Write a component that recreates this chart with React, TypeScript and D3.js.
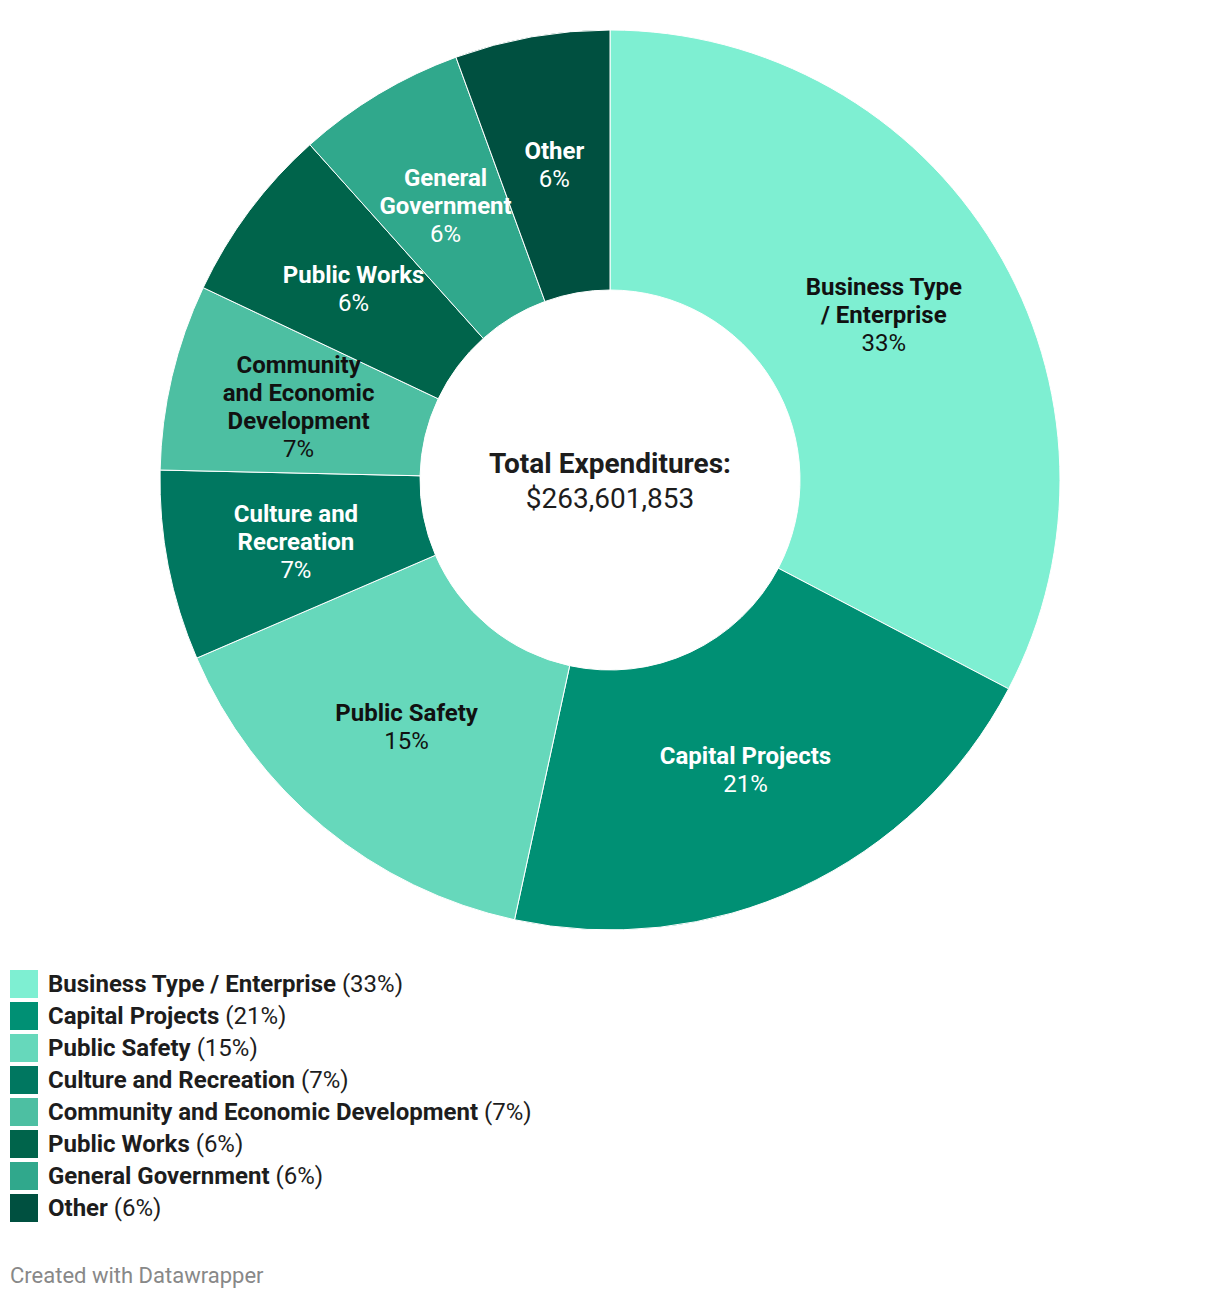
import React from "react";
import * as d3 from "d3";

const categories = [
  "Business Type / Enterprise",
  "Capital Projects",
  "Public Safety",
  "Culture and Recreation",
  "Community and Economic Development",
  "Public Works",
  "General Government",
  "Other",
];
const labelLines = [
  ["Business Type", "/ Enterprise"],
  ["Capital Projects"],
  ["Public Safety"],
  ["Culture and", "Recreation"],
  ["Community", "and Economic", "Development"],
  ["Public Works"],
  ["General", "Government"],
  ["Other"],
];
const values = [86.15, 54.62, 39.86, 18.0, 17.6, 16.74, 15.97, 14.66];
const percents = ["33%", "21%", "15%", "7%", "7%", "6%", "6%", "6%"];
const colors = ["#7eefd2", "#009074", "#66d8bb", "#007760", "#4dbfa2", "#00644b", "#30a88c", "#005040"];
const darkText = [true, false, true, false, true, false, false, false];
const totalLabel = "Total Expenditures:";
const totalValue = "$263,601,853";

export default function App() {
  const W = 1220, H = 1298;
  const cx = 610, cy = 480, R = 450, r = 190;
  const pie = d3.pie<number>().sort(null).value((d) => d)(values);
  const arc = d3.arc<d3.PieArcDatum<number>>().innerRadius(r).outerRadius(R);
  const font = "Roboto, sans-serif";
  const lh = 28;
  return (
    <svg width={W} height={H} style={{ position: "absolute", left: 0, top: 0 }} fontFamily={font}>
      <rect width={W} height={H} fill="#fff" />
      <g transform={`translate(${cx},${cy})`}>
        {pie.map((p, i) => (
          <path key={i} d={arc(p) || ""} fill={colors[i]} stroke="#fff" strokeWidth={1} />
        ))}
        {pie.map((p, i) => {
          const [x, y] = arc.centroid(p);
          const lines = [...labelLines[i], percents[i]];
          const n = lines.length;
          const fill = darkText[i] ? "#111" : "#fff";
          return (
            <text key={"l" + i} x={x} y={y} textAnchor="middle" fill={fill} fontSize={24}>
              {lines.map((ln, j) => (
                <tspan key={j} x={x} y={y + (j - (n - 1) / 2) * lh} dy="0.35em" fontWeight={j < n - 1 ? 700 : 400}>
                  {ln}
                </tspan>
              ))}
            </text>
          );
        })}
        <text x={0} y={-17} dy="0.35em" textAnchor="middle" fontSize={28} fontWeight={700} fill="#1d1d1d">{totalLabel}</text>
        <text x={0} y={18} dy="0.35em" textAnchor="middle" fontSize={28} fill="#1d1d1d">{totalValue}</text>
      </g>
      <g>
        {categories.map((c, i) => (
          <g key={c} transform={`translate(10,${970 + i * 32})`}>
            <rect width={28} height={28} fill={colors[i]} />
            <text x={38} y={14} dy="0.35em" fontSize={24} fill="#1d1d1d">
              <tspan fontWeight={700}>{c}</tspan>
              <tspan> ({percents[i]})</tspan>
            </text>
          </g>
        ))}
      </g>
      <text x={10} y={1275} dy="0.35em" fontSize={22} fill="#888">Created with Datawrapper</text>
    </svg>
  );
}
